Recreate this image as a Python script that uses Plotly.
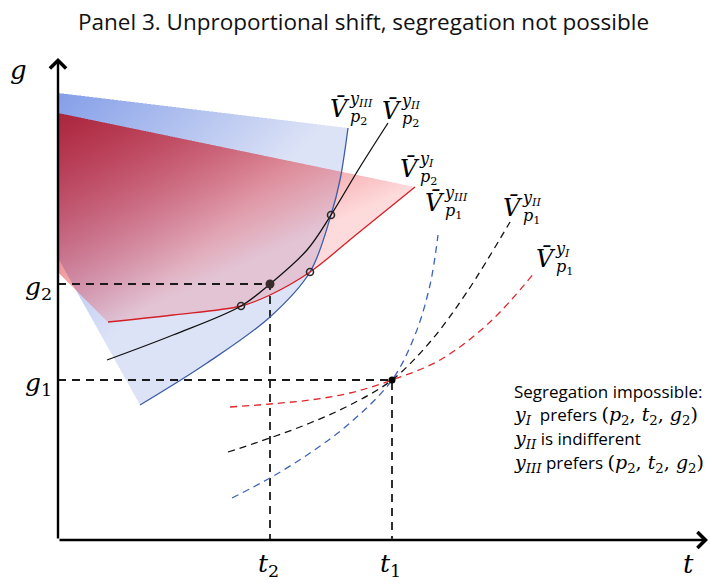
import numpy as np
import plotly.graph_objects as go

# ---------------- data (diagram units: t to the right, g upward) ----------------
t_ticks = [212, 334]                     # t2, t1
t_tick_labels = ["<i>t</i><sub>2</sub>", "<i>t</i><sub>1</sub>"]
g_ticks = [256, 160]                     # g2, g1
g_tick_labels = ["<i>g</i><sub>2</sub>", "<i>g</i><sub>1</sub>"]
T_END, G_END = 650, 482

# indifference curves at p2 (solid)
p2_yIII_t = [82, 149, 212, 252, 273, 282, 290]
p2_yIII_g = [135, 177, 223, 268, 325, 360, 412]
p2_yII_t = [49, 115, 183, 212, 249, 273, 302, 330]
p2_yII_g = [180, 205, 234, 256, 290, 325, 373, 417]
p2_yI_t = [50, 115, 183, 212, 252, 299, 357]
p2_yI_g = [218, 225, 234, 245, 268, 306, 353]

# indifference curves at p1 (dashed)
p1_yIII_t = [174, 212, 252, 292, 334, 357, 372, 380]
p1_yIII_g = [42, 62, 87, 117, 160, 205, 255, 305]
p1_yII_t = [170, 212, 252, 292, 334, 372, 409, 452]
p1_yII_g = [88, 102, 117, 135, 160, 198, 248, 318]
p1_yI_t = [172, 212, 252, 292, 334, 382, 432, 477]
p1_yI_g = [133, 136, 140, 147, 160, 180, 218, 268]

# crossing points of the p2 curves
cross_t = [183, 252, 273]
cross_g = [234, 268, 325]

# corners of the shaded preferred sets on the g axis
blue_corner_top = (0, 447)
blue_corner_low = (0, 282)
red_corner_top = (0, 427)
red_corner_low = (0, 268)

TITLE = "Panel 3. Unproportional shift, segregation not possible"

MATH = "DejaVu Serif"
SANS = "Open Sans"


# ---------------- helpers ----------------
def plotly_spline(ts, gs, smooth=1.0, nseg=40):
    """Sample the same cardinal spline plotly draws for line.shape='spline'."""
    pts = np.column_stack([ts, gs]).astype(float)
    n = len(pts)
    tang = []
    for i in range(1, n - 1):
        p0, p1, p2 = pts[i - 1], pts[i], pts[i + 1]
        d1 = p0 - p1
        d2 = p2 - p1
        d1a = (d1 @ d1) ** 0.25
        d2a = (d2 @ d2) ** 0.25
        num = (d2a * d2a * d1 - d1a * d1a * d2) * smooth
        den1 = 3 * d2a * (d1a + d2a)
        den2 = 3 * d1a * (d1a + d2a)
        tang.append((p1 + num / den1, p1 - num / den2))
    u = np.linspace(0, 1, nseg)[:, None]
    out = [pts[:1]]
    c = tang[0][0]
    out.append((1 - u) ** 2 * pts[0] + 2 * (1 - u) * u * c + u ** 2 * pts[1])
    for i in range(2, n - 1):
        a, b = tang[i - 2][1], tang[i - 1][0]
        p0, p3 = pts[i - 1], pts[i]
        out.append((1 - u) ** 3 * p0 + 3 * (1 - u) ** 2 * u * a + 3 * (1 - u) * u ** 2 * b + u ** 3 * p3)
    c = tang[n - 3][1]
    out.append((1 - u) ** 2 * pts[n - 2] + 2 * (1 - u) * u * c + u ** 2 * pts[n - 1])
    return np.vstack(out)


def inside(poly, X, Y):
    px, py = poly[:, 0], poly[:, 1]
    res = np.zeros(X.shape, bool)
    j = len(poly) - 1
    for i in range(len(poly)):
        xi, yi, xj, yj = px[i], py[i], px[j], py[j]
        if yi != yj:
            cond = ((yi > Y) != (yj > Y)) & (X < (xj - xi) * (Y - yi) / (yj - yi) + xi)
            res ^= cond
        j = i
    return res


# ---------------- gradient-filled preferred sets (rendered as an RGBA image) ----------------
blue_curve = plotly_spline(p2_yIII_t, p2_yIII_g)
red_curve = plotly_spline(p2_yI_t, p2_yI_g)
blue_poly = np.vstack([[blue_corner_top], blue_curve[::-1], [blue_corner_low]])
red_poly = np.vstack([[red_corner_top], red_curve[::-1], [red_corner_low]])

T0, T1, G0, G1 = 0, 362, 128, 452
tc = np.arange(T0, T1) + 0.5
gc = np.arange(G0, G1) + 0.5
TT, GG = np.meshgrid(tc, gc)
cov_b = np.zeros(TT.shape)
cov_r = np.zeros(TT.shape)
offs = [-0.25, 0.25]
for ox in offs:
    for oy in offs:
        cov_b += inside(blue_poly, TT + ox, GG + oy)
        cov_r += inside(red_poly, TT + ox, GG + oy)
cov_b /= 4.0
cov_r /= 4.0

sb = np.clip((TT + 1.0 * (447 - GG)) / 300.0, 0, 1)[..., None]
cb0 = np.array([132, 158, 232.0])
cb1 = np.array([221, 227, 246.0])
Cb = cb0 * (1 - sb) + cb1 * sb
ab = cov_b[..., None]

k = 2.2
sr = np.clip((TT + k * (427 - GG)) / (357 + k * 74), 0, 1)[..., None]
cr0 = np.array([172, 30, 50.0])
cr1 = np.array([246, 55, 60.0])
Cr = cr0 * (1 - sr) + cr1 * sr
ar = (0.93 - 0.75 * sr ** 1.3) * cov_r[..., None]

aout = ar + ab * (1 - ar)
cout = np.where(aout > 0, (Cr * ar + Cb * ab * (1 - ar)) / np.maximum(aout, 1e-9), 255)
rgba = np.concatenate([cout, aout * 255], axis=-1)
rgba = np.clip(np.round(rgba), 0, 255).astype(np.uint8)

fig = go.Figure()
fig.add_trace(go.Image(z=rgba.tolist(), colormodel="rgba", zmin=[0, 0, 0, 0], zmax=[255, 255, 255, 255],
                       x0=T0 + 0.5, dx=1, y0=G0 + 0.5, dy=1, hoverinfo="skip"))

# ---------------- guide lines ----------------
DASH_GUIDE = "8px,6px"
for tv, gv in zip(t_ticks, g_ticks):
    fig.add_trace(go.Scatter(x=[0, tv, tv], y=[gv, gv, 0], mode="lines",
                             line=dict(color="#1a1a1a", width=1.8, dash=DASH_GUIDE),
                             hoverinfo="skip", showlegend=False))

# ---------------- curves ----------------
DASH_C = "7px,5px"
curves = [
    (p1_yIII_t, p1_yIII_g, "#3e63b4", DASH_C),
    (p1_yII_t, p1_yII_g, "#111111", DASH_C),
    (p1_yI_t, p1_yI_g, "#e0262b", DASH_C),
    (p2_yIII_t, p2_yIII_g, "#3d5ca6", "solid"),
    (p2_yI_t, p2_yI_g, "#d41f26", "solid"),
    (p2_yII_t, p2_yII_g, "#111111", "solid"),
]
for ts, gs, col, dash in curves:
    fig.add_trace(go.Scatter(x=ts, y=gs, mode="lines",
                             line=dict(color=col, width=1.3, dash=dash, shape="spline", smoothing=1),
                             hoverinfo="skip", showlegend=False))

# crossing markers
fig.add_trace(go.Scatter(x=cross_t, y=cross_g, mode="markers",
                         marker=dict(symbol="circle-open", size=7, color="#2a2a2a", line=dict(width=1.6)),
                         hoverinfo="skip", showlegend=False))
fig.add_trace(go.Scatter(x=[t_ticks[0]], y=[g_ticks[0]], mode="markers",
                         marker=dict(symbol="circle", size=9, color="#3a2b2b"),
                         hoverinfo="skip", showlegend=False))
fig.add_trace(go.Scatter(x=[t_ticks[1]], y=[g_ticks[1]], mode="markers",
                         marker=dict(symbol="circle", size=7, color="#000000"),
                         hoverinfo="skip", showlegend=False))

ann = []
# axes with arrows
ann.append(dict(x=T_END, y=0, ax=0, ay=0, xref="x", yref="y", axref="x", ayref="y", text="",
                showarrow=True, arrowhead=4, arrowsize=1.3, arrowwidth=2.4, arrowcolor="black", standoff=0))
ann.append(dict(x=0, y=G_END, ax=0, ay=0, xref="x", yref="y", axref="x", ayref="y", text="",
                showarrow=True, arrowhead=4, arrowsize=1.3, arrowwidth=2.4, arrowcolor="black", standoff=0))

# axis names and tick labels
ann.append(dict(x=-40, y=470, text="<i>g</i>", showarrow=False, font=dict(family=MATH, size=26, color="black")))
ann.append(dict(x=630, y=-24, text="<i>t</i>", showarrow=False, font=dict(family=MATH, size=26, color="black")))
for tv, lab in zip(t_ticks, t_tick_labels):
    ann.append(dict(x=tv - 2, y=-25, text=lab, showarrow=False, font=dict(family=MATH, size=25, color="black")))
for gv, lab in zip(g_ticks, g_tick_labels):
    ann.append(dict(x=-20, y=gv - 4, text=lab, showarrow=False, font=dict(family=MATH, size=25, color="black")))

# curve labels  V-bar^{y}_{p}
curve_labels = [
    (282, 431, "III", "2"),
    (334, 429, "II", "2"),
    (352, 371, "I", "2"),
    (377, 337, "III", "1"),
    (455, 332, "II", "1"),
    (488, 281, "I", "1"),
]
for tc_, gc_, yy, pp in curve_labels:
    ann.append(dict(x=tc_, y=gc_, text="<i>V\u0304</i>", showarrow=False, xanchor="center", yanchor="middle",
                    borderpad=0, font=dict(family=MATH, size=24, color="black")))
    ann.append(dict(x=tc_ + 8, y=gc_ + 10, text="<i>y</i><sub><i>%s</i></sub>" % yy, showarrow=False,
                    xanchor="left", yanchor="middle", borderpad=0, font=dict(family=MATH, size=16, color="black")))
    ann.append(dict(x=tc_ + 9, y=gc_ - 8, text="<i>p</i><sub>%s</sub>" % pp, showarrow=False,
                    xanchor="left", yanchor="middle", borderpad=0, font=dict(family=MATH, size=16, color="black")))

# explanatory text (one annotation per line, maths in serif)
def m(s):
    return '<span style="font-family:DejaVu Serif;font-size:19px">%s</span>' % s

triple = m("(<i>p</i><sub>2</sub>, <i>t</i><sub>2</sub>, <i>g</i><sub>2</sub>)")
lines = [
    (149, "Segregation impossible:"),
    (125, m("<i>y</i><sub><i>I</i></sub>") + "&nbsp; prefers " + triple),
    (101, m("<i>y</i><sub><i>II</i></sub>") + " is indifferent"),
    (77, m("<i>y</i><sub><i>III</i></sub>") + " prefers " + triple),
]
for gy, s in lines:
    ann.append(dict(x=455, y=gy, text=s, showarrow=False, xanchor="left", yanchor="middle", borderpad=0,
                    align="left", font=dict(family=SANS, size=17, color="black")))

# title
ann.append(dict(x=363 / 712, y=1 - 22 / 583, xref="paper", yref="paper", text=TITLE, showarrow=False,
                xanchor="center", yanchor="middle", font=dict(family=SANS, size=22.5, color="#111111")))

fig.update_layout(
    width=712, height=583,
    margin=dict(l=0, r=0, t=0, b=0),
    paper_bgcolor="white", plot_bgcolor="white",
    xaxis=dict(range=[-58, 654], visible=False, fixedrange=True),
    yaxis=dict(range=[-43, 540], visible=False, fixedrange=True),
    showlegend=False,
    annotations=ann,
)
fig.write_html("out.html", config={"displayModeBar": False},
               post_script="document.body.style.margin='0px';")
